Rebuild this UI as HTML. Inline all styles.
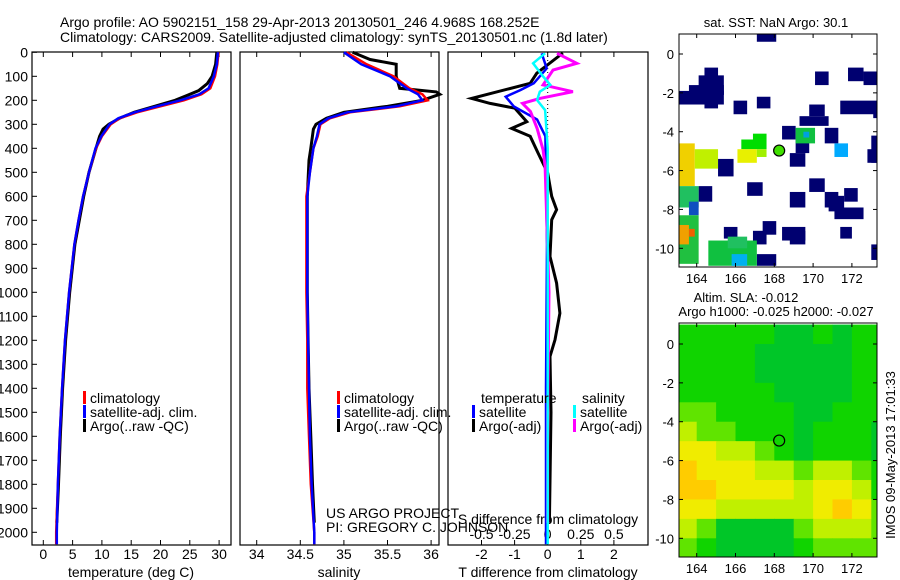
<!DOCTYPE html>
<html><head><meta charset="utf-8"><style>
body{margin:0;background:#fff;width:900px;height:580px;overflow:hidden}
svg{display:block;font-family:"Liberation Sans",sans-serif;font-size:14px}
</style></head><body>
<svg id="fig" width="900" height="580" viewBox="0 0 900 580" xmlns="http://www.w3.org/2000/svg">
<text x="60" y="27">Argo profile: AO 5902151_158 29-Apr-2013 20130501_246 4.968S 168.252E</text>
<text x="60" y="42">Climatology: CARS2009. Satellite-adjusted climatology: synTS_20130501.nc (1.8d later)</text>
<text x="776" y="27" text-anchor="middle" font-size="13">sat. SST: NaN Argo: 30.1</text>
<text x="746" y="302" text-anchor="middle" font-size="13">Altim. SLA: -0.012</text>
<text x="776" y="316" text-anchor="middle" font-size="13">Argo h1000: -0.025 h2000: -0.027</text>
<text transform="translate(895,455) rotate(-90)" text-anchor="middle" font-size="13">IMOS 09-May-2013 17:01:33</text>
<g id="g"></g>
</svg>
<script>
// ---- profile data ----
const tDepthClim=[0,50,100,150,175,200,225,250,275,300,350,400,500,600,700,800,1000,1200,1400,1600,1800,2000,2050];
const tClim=[29.9,29.7,29.3,28.5,27,24,20,16,13,11.5,10,9,7.8,6.8,6,5.3,4.4,3.7,3.2,2.8,2.5,2.2,2.2];
const tSat=[29.8,29.6,29.1,28.2,26.6,23.4,19.4,15.6,12.8,11.3,9.9,8.9,7.8,6.8,6,5.3,4.4,3.7,3.2,2.8,2.5,2.3,2.3];
const tDepthArgo=[0,50,100,130,160,180,200,225,250,275,300,320,350,400,450,500,600,800,1000,1200,1400,1600,1800,1960];
const tArgo=[29.6,29.4,28.8,28,26.5,24.5,22.5,19,15.5,13,11.2,10.2,9.6,9,8.4,7.8,6.9,5.4,4.5,3.8,3.3,2.9,2.6,2.3];
const sDepth=[0,50,100,150,175,200,225,250,275,300,350,400,500,600,800,1000,1200,1400,1600,1800,2000,2050];
const sClim=[35.03,35.26,35.57,35.75,35.9,35.96,35.64,35.07,34.84,34.73,34.7,34.65,34.61,34.57,34.57,34.57,34.58,34.58,34.6,34.62,34.66,34.66];
const sSat=[35.0,35.2,35.53,35.72,35.85,35.9,35.6,35.04,34.82,34.72,34.69,34.65,34.61,34.58,34.58,34.58,34.59,34.6,34.61,34.63,34.66,34.66];
const sDepthArgo=[0,30,50,100,150,165,175,200,225,250,275,300,320,400,450,600,800,1000,1200,1400,1600,1800,1960];
const sArgo=[35.1,35.3,35.6,35.6,35.64,36.06,36.1,35.9,35.5,35.0,34.8,34.68,34.65,34.62,34.6,34.58,34.58,34.58,34.59,34.6,34.62,34.64,34.66];
// differences
const dtArgoDepth=[3,87,129,192,213,233,289,317,350,420,503,600,656,698,851,962,1087,1198,1267,1500,1960];
const dtArgo=[0.46,-0.33,-0.53,-2.3,-1.74,-0.99,-0.63,-1.09,-0.53,-0.29,0,0.12,0.27,0.12,0.07,0.27,0.37,0.22,0.07,0.1,0.05];
const dtSatDepth=[4,67,129,157,185,226,280,350,800,1400,2050];
const dtSat=[-0.18,-0.03,-0.42,-0.82,-1.27,-1.02,-0.32,-0.07,-0.02,-0.05,-0.05];
const dsArgoDepth=[4,46,74,136,164,192,213,247,317,407,476,1000,1500,1960];
const dsArgo=[0.07,0.22,0.04,-0.035,0.19,-0.06,-0.19,-0.13,-0.08,-0.035,-0.02,0.01,0.0,0.0];
const dsSatDepth=[4,46,101,136,164,199,241,400,1000,2050];
const dsSat=[-0.02,-0.11,-0.035,0.02,-0.06,-0.08,-0.02,0,0,0];
const depthTicks=[0,100,200,300,400,500,600,700,800,900,1000,1100,1200,1300,1400,1500,1600,1700,1800,1900,2000];
const tTicks=[0,5,10,15,20,25,30];
const sTicks=[34,34.5,35,35.5,36];
const sTickLabels=["34","34.5","35","35.5","36"];
const dTTicks=[-2,-1,0,1,2];
const dSTicks=[-0.5,-0.25,0,0.25,0.5];
const dSTickLabels=["-0.5","-0.25","0","0.25","0.5"];
// ---- map data ----
const lonTicks=[164,166,168,170,172];
const latTicks=[0,-2,-4,-6,-8,-10];
const sstCells=[
[167.1,1.06,168.1,0.63,"#000070"],[164.4,-0.7,165.1,-1.4,"#000070"],[164.1,-1.1,165.4,-2.1,"#000070"],[163.6,-1.6,165.4,-2.1,"#000070"],[163.1,-1.9,165.4,-2.6,"#000070"],[164.4,-2.1,165.1,-2.8,"#000070"],
[165.9,-2.4,166.6,-3.1,"#000070"],[167.1,-2.2,167.8,-2.8,"#000070"],[170.1,-0.9,170.8,-1.6,"#000070"],[171.8,-0.7,172.6,-1.4,"#000070"],[172.6,-0.9,173.3,-1.6,"#000070"],
[171.4,-2.4,173.3,-3.1,"#000070"],[173.1,-2.9,173.3,-3.3,"#000070"],[169.8,-2.6,170.6,-3.2,"#000070"],[169.3,-3.2,170.8,-3.7,"#000070"],[168.4,-3.7,169.1,-4.4,"#000070"],
[169.1,-4.4,169.8,-5.1,"#000070"],[168.8,-5.1,169.6,-5.8,"#000070"],[170.6,-3.8,171.3,-4.6,"#000070"],[173.0,-4.2,173.3,-5.6,"#000070"],[172.8,-4.9,173.3,-5.6,"#000070"],
[165.1,-5.4,165.9,-6.3,"#000070"],[169.8,-6.4,170.6,-7.1,"#000070"],[164.1,-6.8,164.8,-7.6,"#000070"],[166.6,-6.6,167.4,-7.3,"#000070"],[168.8,-7.1,169.6,-7.9,"#000070"],
[170.6,-7.1,171.3,-7.9,"#000070"],[170.8,-7.3,171.6,-8.1,"#000070"],[171.6,-6.9,172.3,-7.6,"#000070"],[171.1,-7.9,172.6,-8.5,"#000070"],[171.4,-8.9,172.0,-9.5,"#000070"],
[165.4,-8.9,166.1,-9.5,"#000070"],[167.4,-8.6,168.1,-9.3,"#000070"],[166.9,-9.1,167.6,-9.8,"#000070"],[168.4,-8.9,169.6,-9.6,"#000070"],[168.8,-9.1,169.6,-9.8,"#000070"],
[173.0,-9.8,173.3,-10.6,"#000070"],[167.1,-10.3,168.1,-10.9,"#000070"],
[166.3,-4.4,167.6,-4.9,"#00dd00"],[166.9,-4.1,167.6,-4.4,"#00dd00"],[166.1,-4.9,167.1,-5.6,"#e8f000"],[167.1,-4.9,167.6,-5.3,"#a0f000"],
[169.1,-3.8,170.1,-4.6,"#10c040"],[169.5,-4.0,169.8,-4.3,"#00a0e0"],[171.1,-4.6,171.8,-5.3,"#00aaff"],
[163.1,-4.6,163.9,-6.8,"#f0d000"],[163.9,-4.9,165.1,-5.9,"#c0f000"],[163.1,-6.8,164.1,-7.9,"#20c060"],[163.6,-7.6,164.1,-8.3,"#1050c0"],
[163.1,-8.3,164.1,-10.8,"#20c040"],[163.1,-8.8,163.6,-9.8,"#f0a000"],[163.6,-9.0,163.9,-9.4,"#f06000"],
[164.6,-9.6,167.1,-10.9,"#10c040"],[165.6,-9.4,166.6,-10.0,"#20c060"],[165.8,-10.3,166.6,-10.9,"#00b0f0"]
];
const slaLats=[0.5,-0.5,-1.5,-2.5,-3.5,-4.5,-5.5,-6.5,-7.5,-8.5,-9.5,-10.5];
const slaLons=[163.5,164.5,165.5,166.5,167.5,168.5,169.5,170.5,171.5,172.5,173.5];
const slaGrid=[
[1,1,1,1,1,0,0,1,0,1,1],
[1,1,1,1,0,0,0,0,0,1,1],
[1,1,1,1,0,0,0,0,0,1,1],
[1,1,1,1,1,0,0,0,0,1,1],
[2,2,1,1,1,1,0,0,1,1,1],
[3,2,2,1,1,1,0,1,1,1,0],
[4,4,3,3,2,1,0,1,1,1,0],
[5,4,4,4,3,3,2,3,3,2,1],
[5,5,4,4,4,4,3,4,4,3,1],
[4,4,3,3,3,3,3,4,5,4,2],
[3,2,0,0,0,0,2,3,3,3,2],
[2,1,0,0,0,0,1,2,2,2,2]];
const slaColors=["#00c628","#10d400","#60e400","#c0f000","#f0ec00","#ffcc00"];
const argoLon=168.25, argoLat=-4.97;

const NS="http://www.w3.org/2000/svg";
const G=document.getElementById('g');
function mk(tag,attrs,parent){const e=document.createElementNS(NS,tag);for(const k in attrs)e.setAttribute(k,attrs[k]);(parent||G).appendChild(e);return e;}
function txt(x,y,s,anchor,size,parent){const e=mk('text',{x:x,y:y,'text-anchor':anchor||'start'},parent);if(size)e.setAttribute('font-size',size);e.textContent=s;return e;}

const yD=d=>52.3+0.24*d;
const panels=[
 {name:'temperature',x0:32,x1:231,fx:v=>43.3+5.86*v},
 {name:'salinity',x0:240,x1:439,fx:v=>256.7+87.2*(v-34)},
 {name:'difference',x0:448,x1:648,fx:v=>547.7+33.1*v,fs:v=>547.7+132.4*v}];
const TOP=52,BOT=545;
function frame(p){
 const r=mk('rect',{x:p.x0,y:TOP,width:p.x1-p.x0,height:BOT-TOP,fill:'none',stroke:'#000','stroke-width':1.2});
 
 
}
function line(xs,ds,fx,color,w,name){
 const pts=xs.map((v,i)=>fx(v).toFixed(1)+','+yD(ds[i]).toFixed(1)).join(' ');
 const e=mk('polyline',{points:pts,fill:'none',stroke:color,'stroke-width':w,'stroke-linejoin':'miter'});
 
 
}
panels.forEach(frame);
depthTicks.forEach(d=>{const y=yD(d);mk('line',{x1:32,x2:37,y1:y,y2:y,stroke:'#000'});
 const t=txt(28,y+5,String(d),'end');
 
 });
function xticks(p,ticks,labels,fx,y,top){
 ticks.forEach((v,i)=>{const x=fx(v);
  mk('line',{x1:x,x2:x,y1:BOT,y2:BOT-5,stroke:'#000'});
  if(top)mk('line',{x1:x,x2:x,y1:TOP,y2:TOP+5,stroke:'#000'});
  const t=txt(x,y,labels?labels[i]:String(v),'middle');
  
  });
}
xticks('temperature',tTicks,null,panels[0].fx,559,true);
xticks('salinity',sTicks,sTickLabels,panels[1].fx,559,true);
xticks('t-diff',dTTicks,null,panels[2].fx,559,true);
dSTicks.forEach((v,i)=>{const t=txt(panels[2].fs(v),539,dSTickLabels[i],'middle');
 
 });
[[131,'temperature (deg C)','x-axis-title-temperature'],[339,'salinity','x-axis-title-salinity'],[548,'T difference from climatology','x-axis-title-t-diff']].forEach(a=>{
 const t=txt(a[0],577,a[1],'middle');});
{const t=txt(548,524,'S difference from climatology','middle');}
mk('line',{x1:547.7,x2:547.7,y1:TOP,y2:200,stroke:'#000','stroke-dasharray':'1,3'});
const P0=panels[0],P1=panels[1],P2=panels[2];
line(tArgo,tDepthArgo,P0.fx,'#000',3,'temp-argo-line');
line(tClim,tDepthClim,P0.fx,'#ff0000',2.5,'temp-climatology-line');
line(tSat,tDepthClim,P0.fx,'#0000ff',2.5,'temp-satellite-line');
line(sArgo,sDepthArgo,P1.fx,'#000',3,'sal-argo-line');
line(sClim,sDepth,P1.fx,'#ff0000',2.5,'sal-climatology-line');
line(sSat,sDepth,P1.fx,'#0000ff',2.5,'sal-satellite-line');
line(dtArgo,dtArgoDepth,P2.fx,'#000',3,'tdiff-argo-line');
line(dtSat,dtSatDepth,P2.fx,'#0000ff',2.5,'tdiff-satellite-line');
line(dsArgo,dsArgoDepth,P2.fs,'#ff00ff',3,'sdiff-argo-line');
line(dsSat,dsSatDepth,P2.fs,'#00ffff',2.5,'sdiff-satellite-line');
function legend(x,y,color,label,name){
 const r=mk('rect',{x:x,y:y-7,width:3,height:13,fill:color});
 
 
 const t=txt(x+7,y+5,label,'start');
 
 
}
[[83,'climatology','#ff0000',398],[83,'satellite-adj. clim.','#0000ff',412],[83,'Argo(..raw -QC)','#000',426]].forEach((a,i)=>legend(a[0],a[3],a[2],a[1],'temp-legend-entry-'+i));
[[337,'climatology','#ff0000',398],[337,'satellite-adj. clim.','#0000ff',412],[337,'Argo(..raw -QC)','#000',426]].forEach((a,i)=>legend(a[0],a[3],a[2],a[1],'sal-legend-entry-'+i));
{const t=txt(481,403,'temperature');
 const u=txt(582,403,'salinity');}
legend(472,412,'#0000ff','satellite','diff-legend-t-satellite');
legend(472,426,'#000','Argo(-adj)','diff-legend-t-argo');
legend(573,412,'#00ffff','satellite','diff-legend-s-satellite');
legend(573,426,'#ff00ff','Argo(-adj)','diff-legend-s-argo');
{const t=txt(326,518,'US ARGO PROJECT');
 const u=txt(326,532,'PI: GREGORY C. JOHNSON');}

const MX0=679,MX1=877;
const mlon=l=>696.7+19.4*(l-164);
function mapAxes(y0,y1,mlat,name){
 latTicks.forEach(v=>{const y=mlat(v);mk('line',{x1:MX0,x2:MX0+4,y1:y,y2:y,stroke:'#000'});mk('line',{x1:MX1,x2:MX1-4,y1:y,y2:y,stroke:'#000'});
  const t=txt(MX0-5,y+5,String(v),'end',13);});
 lonTicks.forEach(v=>{const x=mlon(v);mk('line',{x1:x,x2:x,y1:y1,y2:y1-4,stroke:'#000'});mk('line',{x1:x,x2:x,y1:y0,y2:y0+4,stroke:'#000'});
  const t=txt(x,y1+16,String(v),'middle',13);});
 const r=mk('rect',{x:MX0,y:y0,width:MX1-MX0,height:y1-y0,fill:'none',stroke:'#000'});
 
 
}
const lat1=v=>54+19.43*(-v);
const clip1=mk('clipPath',{id:'c1'});mk('rect',{x:MX0,y:34,width:MX1-MX0,height:233},clip1);
const sg=mk('g',{'clip-path':'url(#c1)'});
sstCells.forEach(c=>{const e=mk('rect',{x:mlon(c[0]),y:lat1(c[1]),width:mlon(c[2])-mlon(c[0]),height:lat1(c[3])-lat1(c[1]),fill:c[4]},sg);
 
 });
{const c=mk('circle',{cx:mlon(argoLon),cy:lat1(argoLat),r:5.5,fill:'#40e000',stroke:'#000','stroke-width':1.2});
 }
mapAxes(34,267,lat1,'sst-map');
const lat2=v=>344+19.43*(-v);
const clip2=mk('clipPath',{id:'c2'});mk('rect',{x:MX0,y:323,width:MX1-MX0,height:234},clip2);
const lg=mk('g',{'clip-path':'url(#c2)'});
slaGrid.forEach((row,i)=>row.forEach((v,j)=>{
 const e=mk('rect',{x:mlon(slaLons[j]-0.5),y:lat2(slaLats[i]+0.5),width:19.9,height:19.9,fill:slaColors[v]},lg);
 
 }));
{const c=mk('circle',{cx:mlon(argoLon),cy:lat2(argoLat),r:5.5,fill:'none',stroke:'#000','stroke-width':1.2});
 }
mapAxes(323,557,lat2,'sla-map');
</script>
</body></html>
